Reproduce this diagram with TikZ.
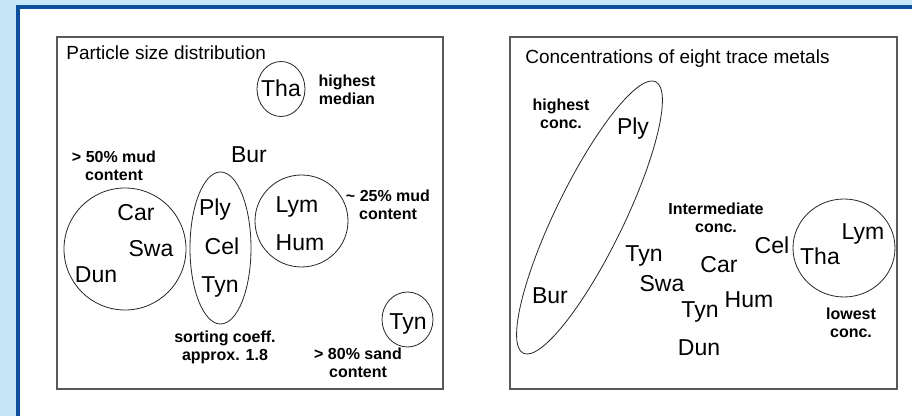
\documentclass[tikz,border=0pt]{standalone}
\usepackage{fontspec}
\setmainfont{Liberation Sans}
\usepackage{tikz}
\definecolor{slidebg}{HTML}{C6E7F8}
\definecolor{slideblue}{HTML}{0D4F9C}
\tikzstyle{sheet}=[x=0.5pt, y=-0.5pt]
\tikzstyle{panel}=[draw=black!65, line width=0.65pt]
\tikzstyle{group}=[draw=black!85, line width=0.4pt]
\tikzstyle{site}=[inner sep=0pt, anchor=base, font=\fontsize{11.5}{13}\selectfont]
\tikzstyle{heading}=[inner sep=0pt, anchor=base west, font=\fontsize{9.5}{11}\selectfont]
\tikzstyle{note}=[inner sep=0pt, align=center, font=\bfseries\fontsize{8}{9}\selectfont]

\begin{document}
\begin{tikzpicture}[sheet]
	\useasboundingbox (0,0) rectangle (912,416);
	%The slide frame
	\fill[slidebg] (0,0) rectangle (912,416);
	\fill[white] (18,7) rectangle (912,416);
	\draw[slideblue, line width=2pt] (18,416) -- (18,7) -- (912,7);

	%The particle size panel
	\draw[panel] (57,37) rectangle (443,389);
	\draw (66,60) node[heading] (psd) {Particle size distribution};

	\draw (281,97) node[site] (tha-p) {Tha};
	\draw (249,163) node[site] (bur-p) {Bur};
	\draw (136,221) node[site] (car-p) {Car};
	\draw (151,257) node[site] (swa-p) {Swa};
	\draw (96,283) node[site] (dun-p) {Dun};
	\draw (215,216) node[site] (ply-p) {Ply};
	\draw (222,255) node[site] (cel-p) {Cel};
	\draw (220,293) node[site] (tyn-p) {Tyn};
	\draw (297,213) node[site] (lym-p) {Lym};
	\draw (300,251) node[site] (hum-p) {Hum};
	\draw (408,330) node[site] (tyn2-p) {Tyn};

	\draw[group] (281,89) ellipse [x radius=24, y radius=27.5];
	\draw[group] (125,249) ellipse [x radius=61, y radius=61];
	\draw[group] (220.5,248) ellipse [x radius=30.5, y radius=76];
	\draw[group] (301.5,221) ellipse [x radius=46.5, y radius=46];
	\draw[group] (407.5,319.5) ellipse [x radius=25.5, y radius=27.5];

	\draw (347,90) node[note] (n-median) {highest\\median};
	\draw (114,166) node[note] (n-mud50) {> 50\% mud\\content};
	\draw (388,204.5) node[note] (n-mud25) {\textasciitilde\ 25\% mud\\content};
	\draw (225,347) node[note] (n-sort) {sorting coeff.\\approx. 1.8};
	\draw (358,363) node[note] (n-sand) {> 80\% sand\\content};

	%The trace metals panel
	\draw[panel] (510,37) rectangle (897,389);
	\draw (525,64) node[heading] (tm) {Concentrations of eight trace metals};

	\draw (633,135) node[site] (ply-m) {Ply};
	\draw (550,304) node[site] (bur-m) {Bur};
	\draw (644,262) node[site] (tyn-m) {Tyn};
	\draw (719,273) node[site] (car-m) {Car};
	\draw (772,254) node[site] (cel-m) {Cel};
	\draw (662,292) node[site] (swa-m) {Swa};
	\draw (700,318) node[site] (tyn2-m) {Tyn};
	\draw (749,308) node[site] (hum-m) {Hum};
	\draw (699,356) node[site] (dun-m) {Dun};
	\draw (863,240) node[site] (lym-m) {Lym};
	\draw (820,265) node[site] (tha-m) {Tha};

	\draw[group, rotate around={64:(589.5,217.5)}] (589.5,217.5) ellipse [x radius=151, y radius=34];
	\draw[group] (844,248) ellipse [x radius=51, y radius=49];

	\draw (561,113.5) node[note] (n-high) {highest\\conc.};
	\draw (716,217.5) node[note] (n-mid) {Intermediate\\conc.};
	\draw (851,322.5) node[note] (n-low) {lowest\\conc.};
\end{tikzpicture}
\end{document}
